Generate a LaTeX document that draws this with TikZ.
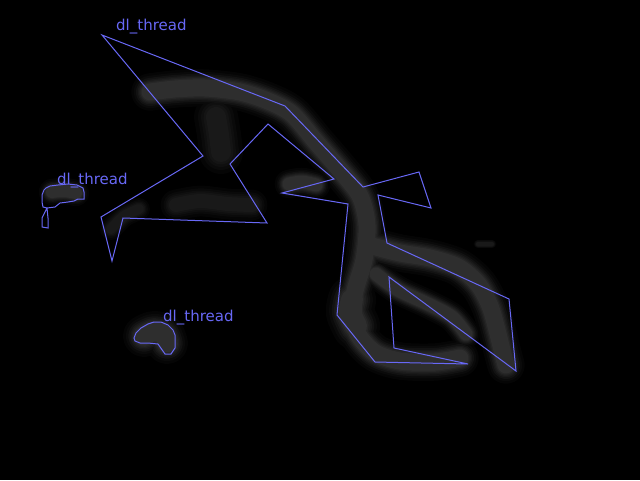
\documentclass[tikz,border=0pt]{standalone}
\usepackage{fontspec}
\usepackage{xcolor}
\usepackage{tikz}
\newfontfamily\tagfont{DejaVu Sans}
\definecolor{maskblue}{RGB}{104,104,246}
\tikzset{region/.style={draw=maskblue, line width=1pt, line join=miter},
    tag/.style={text=maskblue, inner sep=0pt, anchor=base west,
        font=\tagfont\fontsize{15}{15}\selectfont},
    smear/.style={line cap=round, line join=round}}
% one layer of the grey threads, #1 = width factor, #2 = percent white
\newcommand\threadlayer[2]{%
    \draw[smear, line width=#1*17pt, white!#2!black] plot[smooth] coordinates
        {(150,92) (175,89) (205,88) (240,92) (268,101) (292,114) (316,142) (340,170) (360,196) (367,225) (364,260) (354,296) (356,330) (374,352) (400,361) (435,362) (460,358)};
    \draw[smear, line width=#1*17pt, white!#2!black] plot[smooth] coordinates
        {(372,246) (400,253) (430,258) (458,267) (478,284) (490,306) (497,330) (503,354) (506,365)};
    \draw[smear, line width=#1*13pt, white!#2!black] plot[smooth] coordinates
        {(376,274) (398,290) (428,304) (452,317) (466,334)};
    \draw[smear, line width=#1*22pt, white!#2!black] plot[smooth] coordinates
        {(352,300) (350,312) (356,326)};
    \draw[smear, line width=#1*13pt, white!#2!black] plot[smooth] coordinates
        {(289,184) (302,182) (316,185)};
    \draw[smear, line width=#1*12pt, white!#2!black] plot[smooth] coordinates
        {(52,192) (64,191) (76,193)};
    \draw[smear, line width=#1*19pt, white!#2!black] plot[smooth] coordinates
        {(144,336) (153,332) (163,334) (167,343)};
}
% the fainter patches
\newcommand\faintlayer[2]{%
    \draw[smear, line width=#1*20pt, white!#2!black] plot[smooth] coordinates
        {(216,117) (219,135) (221,152)};
    \draw[smear, line width=#1*14pt, white!#2!black] plot[smooth] coordinates
        {(176,205) (200,201) (228,204) (252,205)};
    \draw[smear, line width=#1*10pt, white!#2!black] plot[smooth] coordinates
        {(111,229) (124,216) (139,209)};
    \draw[smear, line width=#1*4pt, white!#2!black] (478,244) -- (492,244);
}

\begin{document}
\begin{tikzpicture}[x=1pt, y=-1pt]
    \fill[black] (0,0) rectangle (640,480);
    \useasboundingbox (0,0) rectangle (640,480);
    % blurred grey threads
    \begin{scope}[blend mode=lighten]
        \foreach \f/\c in {2.2/2, 1.9/4, 1.65/7, 1.45/10, 1.3/12, 1.15/15, 1/18} {
            \threadlayer{\f}{\c}
        }
        \foreach \f/\c in {2.2/2, 1.8/4, 1.5/6, 1.25/8, 1/10} {
            \faintlayer{\f}{\c}
        }
    \end{scope}
    % outlines
    \draw[region] (102,35) -- (285,106) -- (363,187) -- (419,172) -- (431,208)
        -- (378,195) -- (387,243) -- (509,299) -- (516,371) -- (389,277)
        -- (394,348) -- (468,364) -- (375,362) -- (337,315) -- (348,204)
        -- (282,193) -- (334,179) -- (268,124) -- (230,164) -- (267,223)
        -- (123,218) -- (112,261) -- (101,217) -- (203,156) -- cycle;
    \draw[region] (46,188) -- (50,186) -- (58,185) -- (68,184) -- (77,185)
        -- (83,188) -- (84,192) -- (84,199) -- (78,199) -- (74,201)
        -- (68,202) -- (60,203) -- (55,207) -- (47,208) -- (42,218)
        -- (42,227) -- (48,228) -- (48,218) -- (47,208) -- (43,207)
        -- (42,202) -- (42,195) -- (44,190) -- cycle;
    \draw[region] (134,338) -- (136,333) -- (141,328) -- (148,324) -- (154,322)
        -- (161,322) -- (168,325) -- (173,330) -- (175,335) -- (175,348)
        -- (171,354) -- (165,354) -- (158,344) -- (148,343) -- (140,343)
        -- (135,341) -- cycle;
    % labels
    \node[tag] (tagtop) at (116,30) {dl\_thread};
    \node[tag] (tagleft) at (57,184) {dl\_thread};
    \node[tag] (tagbottom) at (163,321) {dl\_thread};
\end{tikzpicture}
\end{document}
